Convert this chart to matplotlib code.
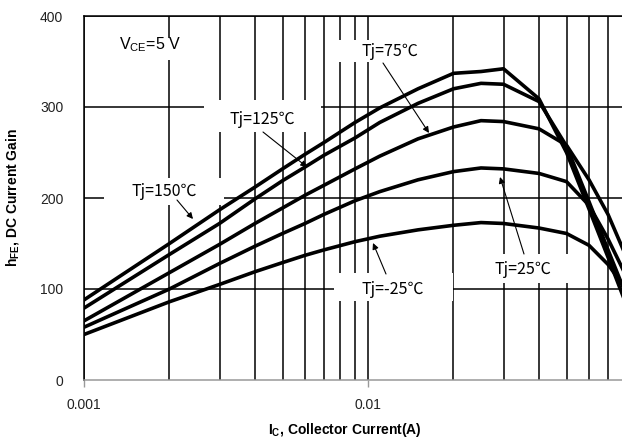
import matplotlib
matplotlib.use('Agg')
import matplotlib.pyplot as plt
from matplotlib.patches import Rectangle
from matplotlib.ticker import LogLocator, NullFormatter

plt.rcParams['font.family'] = ['Liberation Sans', 'Noto Sans CJK JP', 'DejaVu Sans']
plt.rcParams['mathtext.fontset'] = 'custom'
plt.rcParams['mathtext.rm'] = 'Liberation Sans'
plt.rcParams['mathtext.bf'] = 'Liberation Sans:bold'

# collector current (A) and DC current gain per junction temperature
ic = [0.001, 0.002, 0.003, 0.004, 0.005, 0.006, 0.007, 0.009, 0.011, 0.015,
      0.02, 0.025, 0.03, 0.04, 0.05, 0.06, 0.07, 0.08]
hfe_150 = [88, 150, 187, 212, 232, 248, 261, 283, 299, 320, 337, 339, 342, 309, 250, 188, 135, 88]
hfe_125 = [79, 138, 172, 199, 219, 234, 247, 266, 283, 304, 320, 326, 325, 306, 257, 196, 143, 98]
hfe_75 = [65, 118, 149, 172, 189, 203, 214, 232, 246, 265, 278, 285, 284, 276, 258, 220, 182, 140]
hfe_25 = [58, 100, 128, 147, 161, 172, 182, 197, 207, 220, 229, 233, 232, 227, 218, 192, 155, 118]
hfe_m25 = [50, 86, 105, 119, 129, 137, 143, 152, 158, 165, 170, 173, 172, 167, 161, 148, 127, 102]

y_ticks = [0, 100, 200, 300, 400]
x_ticks = [0.001, 0.01]
x_tick_labels = ['0.001', '0.01']

W, H = 622, 442
AX_L, AX_R, AX_T, AX_B = 84, 622, 16, 380


def px(x, y):
    # pixel position in the picture -> axes fraction
    return ((x - AX_L) / (AX_R - AX_L), (AX_B - y) / (AX_B - AX_T))


fig = plt.figure(figsize=(W / 100, H / 100), dpi=100)
ax = fig.add_axes([AX_L / W, (H - AX_B) / H, (AX_R - AX_L) / W, (AX_B - AX_T) / H])

for hfe in [hfe_150, hfe_125, hfe_75, hfe_25, hfe_m25]:
    ax.plot(ic, hfe, color='black', lw=2.6, solid_joinstyle='round', zorder=4)

ax.set_xscale('log')
ax.set_xlim(0.001, 0.001 * 10 ** ((AX_R - AX_L) / 284))
ax.set_ylim(0, 400)
ax.set_xticks(x_ticks)
ax.set_xticklabels(x_tick_labels)
ax.xaxis.set_minor_locator(LogLocator(base=10, subs=range(2, 10)))
ax.xaxis.set_minor_formatter(NullFormatter())
ax.set_yticks(y_ticks)

ax.grid(which='both', axis='x', color='black', lw=1.1)
ax.grid(which='major', axis='y', color='black', lw=1.1)
ax.get_ygridlines()[0].set_visible(False)
ax.set_axisbelow(True)

ax.tick_params(axis='x', which='major', length=5, width=1, color='#999999',
               pad=8, labelsize=10, labelcolor='#222222')
ax.tick_params(axis='x', which='minor', length=0)
ax.tick_params(axis='y', length=0, pad=15, labelsize=10, labelcolor='#222222')

ax.spines['right'].set_visible(False)
ax.spines['left'].set_color('black')
ax.spines['top'].set_color('black')
ax.spines['bottom'].set_color('#999999')
for s in ['left', 'top', 'bottom']:
    ax.spines[s].set_linewidth(1.1)

ax.set_xlabel(r'$\mathbf{I_C}$, Collector Current(A)', fontsize=10, fontweight='bold')
ax.xaxis.set_label_coords(0.485, -0.112)
ax.set_ylabel(r'$\mathbf{h_{FE}}$, DC Current Gain', fontsize=10, fontweight='bold')
ax.yaxis.set_label_coords(-0.118, 0.5)

# white boxes behind the labels (they break the grid lines)
boxes = [(105, 210, 38, 60), (104, 224, 178, 205), (204, 321, 100, 132),
         (330, 430, 40, 62), (334, 453, 273, 301), (480, 575, 254, 283)]
for x0, x1, y0, y1 in boxes:
    fx0, fy1 = px(x0, y1)
    fx1, fy0 = px(x1, y0)
    ax.add_patch(Rectangle((fx0, fy1), fx1 - fx0, fy0 - fy1, transform=ax.transAxes,
                           facecolor='white', edgecolor='none', zorder=2))

ax.text(*px(150, 45), r'V$_{\mathrm{CE}}$=5 V', transform=ax.transAxes,
        ha='center', va='center', fontsize=11.5, zorder=5)

labels = ['Tj=150℃', 'Tj=125℃', 'Tj=75℃', 'Tj=25℃', 'Tj=-25℃']
label_pos = [(164, 191), (262, 119), (390, 51), (523, 270), (393, 289)]
arrow_tail = [(177, 200), (263, 132), (383, 63), (524, 254), (386, 274)]
arrow_head = [(193, 219), (307, 167), (429, 133), (500, 177), (373, 243)]

for lab, lp, tail, head in zip(labels, label_pos, arrow_tail, arrow_head):
    ax.text(*px(*lp), lab, transform=ax.transAxes, ha='center', va='center',
            fontsize=11.5, family=['Noto Sans CJK JP'], zorder=5)
    ax.annotate('', xy=px(*head), xycoords='axes fraction',
                xytext=px(*tail), textcoords='axes fraction',
                arrowprops=dict(arrowstyle='-|>', color='black', lw=0.8,
                                mutation_scale=9, shrinkA=0, shrinkB=0),
                zorder=6)

fig.savefig('out.png', dpi=100)
